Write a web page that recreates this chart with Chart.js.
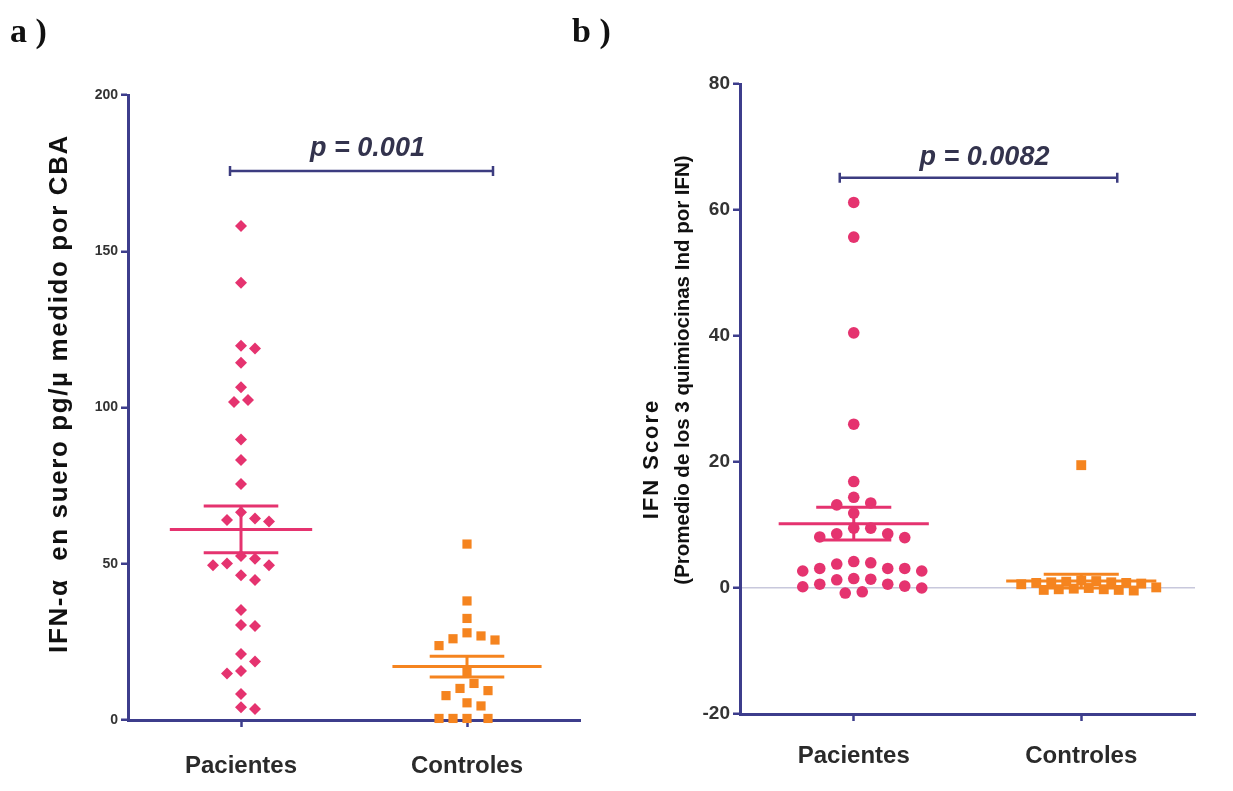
<!DOCTYPE html>
<html><head><meta charset="utf-8">
<script src="https://cdn.jsdelivr.net/npm/chart.js@4.4.1/dist/chart.umd.min.js"></script>
<style>
html,body{margin:0;padding:0;background:#fff;width:1233px;height:791px;overflow:hidden}
#pa{position:absolute;left:0;top:0}
#pb{position:absolute;left:615px;top:0}
.lab{position:absolute;font:bold 34px "Liberation Serif","DejaVu Serif",serif;color:#111;line-height:1}
</style></head><body>
<canvas id="pa" width="615" height="791"></canvas>
<canvas id="pb" width="618" height="791"></canvas>
<div class="lab" style="left:10px;top:14px">a )</div>
<div class="lab" style="left:572px;top:14px">b )</div>
<script>
// ---------- data ----------
const categories = ['Pacientes', 'Controles'];
const categoryPos = [1, 3];

// Panel a: IFN-alpha (pg/µl) by CBA
const pacientesA = [158.1, 139.9, 119.8, 118.9, 114.3, 106.5, 101.8, 102.4, 89.8, 83.2, 75.5,
  64.5, 63.5, 64.0, 66.5, 51.6, 50.1, 49.5, 49.5, 52.5, 44.8, 46.3, 35.2, 30.4, 30.1,
  21.1, 18.7, 15.7, 14.9, 8.3, 3.5, 4.1];
const controlesA = [56.3, 38.1, 32.5, 26.9, 25.6, 26.0, 27.9, 23.8, 15.5, 11.7, 9.4, 7.8, 10.1,
  4.5, 5.5, 0.5, 0.5, 0.5, 0.5];
const meanA = [61.0, 17.1];
const semA = [7.5, 3.3];
const yTicksA = [0, 50, 100, 150, 200];
const pValueA = 'p = 0.001';
const pLevelA = 175.7;

// Panel b: IFN Score
const pacientesB = [61.2, 55.7, 40.5, 26.0, 16.9, 14.4, 13.2, 13.5, 11.9, 9.5, 9.5, 8.6, 8.0, 8.1, 8.6,
  4.0, 3.1, 3.1, 2.7, 2.7, 3.1, 3.8, 4.2, 1.4, 1.5, 0.6, 0.3, 0.0, -0.6, -0.8, 0.2, 0.6, 1.3];
const controlesB = [19.5, 1.2, 0.9, 0.8, 0.9, 0.7, 1.0, 0.8, 0.6, 1.1, 0.0, -0.2, -0.3, -0.1, -0.4, -0.2, -0.3, 0.1];
const meanB = [10.2, 1.1];
const semB = [2.6, 1.1];
const yTicksB = [-20, 0, 20, 40, 60, 80];
const pValueB = 'p = 0.0082';
const pLevelB = 65.1;

// ---------- styles ----------
const NAVY = '#3d3d8c';
const PINK = '#e5336f';
const ORANGE = '#f5841f';
const SANS = '"Liberation Sans", Arial, sans-serif';

Chart.defaults.animation = false;

const extrasPlugin = {
  id: 'extras',
  afterDatasetsDraw(chart, args, opts) {
    const ctx = chart.ctx, xs = chart.scales.x, ys = chart.scales.y, ca = chart.chartArea;
    ctx.save();
    // significance bracket
    const b = opts.bracket;
    const x1 = xs.getPixelForValue(categoryPos[0]) + b.padL;
    const x2 = xs.getPixelForValue(categoryPos[1]) + b.padR;
    const y = ys.getPixelForValue(b.level);
    ctx.strokeStyle = b.color; ctx.lineWidth = 2.5;
    ctx.beginPath();
    ctx.moveTo(x1, y); ctx.lineTo(x2, y);
    ctx.moveTo(x1, y - 5); ctx.lineTo(x1, y + 5);
    ctx.moveTo(x2, y - 5); ctx.lineTo(x2, y + 5);
    ctx.stroke();
    ctx.fillStyle = b.textColor;
    ctx.font = b.font;
    ctx.textAlign = 'center'; ctx.textBaseline = 'alphabetic';
    ctx.fillText(b.label, (x1 + x2) / 2 + b.textDx, y - b.textGap);
    // rotated y titles
    const cy = (ca.top + ca.bottom) / 2;
    for (const t of opts.titles) {
      ctx.save();
      ctx.translate(ca.left - t.offset, cy + t.dy);
      ctx.rotate(-Math.PI / 2);
      ctx.font = t.font;
      if ('letterSpacing' in ctx) ctx.letterSpacing = (t.spacing || 0) + 'px';
      ctx.fillStyle = '#111';
      ctx.textAlign = 'center'; ctx.textBaseline = 'middle';
      ctx.fillText(t.text, 0, 0);
      ctx.restore();
    }
    ctx.restore();
  }
};

function pointSet(values, center, color, style, radius) {
  return {
    data: values.map(v => ({ x: center, y: v })),
    backgroundColor: color, borderColor: color, borderWidth: 0,
    pointStyle: style, pointRadius: radius, pointHoverRadius: radius,
    clip: false, order: 0
  };
}
function lineSet(points, color) {
  return {
    data: points, showLine: true, borderColor: color, borderWidth: 3,
    pointRadius: 0, pointHoverRadius: 0, clip: false, order: 1, borderCapStyle: 'butt'
  };
}
function meanSets(center, mean, sem, color, hw, ew) {
  return [
    lineSet([{ x: center - hw, y: mean }, { x: center + hw, y: mean }], color),
    lineSet([{ x: center - ew, y: mean + sem }, { x: center + ew, y: mean + sem }], color),
    lineSet([{ x: center - ew, y: mean - sem }, { x: center + ew, y: mean - sem }], color),
    lineSet([{ x: center, y: mean - sem }, { x: center, y: mean + sem }], color)
  ];
}

function makeOptions(p) {
  return {
    responsive: false, animation: false, events: [],
    layout: { padding: { top: p.top, right: p.right, left: 0, bottom: 0 } },
    plugins: {
      legend: { display: false }, tooltip: { enabled: false },
      extras: { bracket: p.bracket, titles: p.titles }
    },
    scales: {
      x: {
        type: 'linear', min: 0, max: 4,
        afterBuildTicks: s => { s.ticks = categoryPos.map(v => ({ value: v })); },
        afterFit: s => { s.height = p.xHeight; },
        ticks: {
          callback: v => categories[categoryPos.indexOf(v)] || '',
          font: { family: SANS, size: p.catSize, weight: 'bold' }, color: '#2a2a2a',
          padding: p.catPad, maxRotation: 0, autoSkip: false
        },
        grid: { drawOnChartArea: false, tickLength: 7, tickColor: NAVY, tickWidth: 2.5 },
        border: { display: true, color: NAVY, width: 3 }
      },
      y: {
        min: p.yTicks[0], max: p.yTicks[p.yTicks.length - 1],
        afterBuildTicks: s => { s.ticks = p.yTicks.map(v => ({ value: v })); },
        afterFit: s => { s.width = p.yWidth; },
        ticks: { font: { family: SANS, size: p.tickSize, weight: 'bold' }, color: '#333', padding: 3 },
        grid: {
          drawOnChartArea: p.zeroLine, tickLength: 7, tickColor: NAVY, tickWidth: 2.5,
          color: c => (c.tick && c.tick.value === 0) ? '#c8c8dc' : 'rgba(0,0,0,0)', lineWidth: 1.5
        },
        border: { display: true, color: NAVY, width: 3 }
      }
    }
  };
}

function applySwarm(chart, idx, center, values, step, diam) {
  const xs = chart.scales.x, ys = chart.scales.y;
  const ppu = xs.getPixelForValue(1) - xs.getPixelForValue(0);
  const order = values.map((v, i) => i).sort((a, b) => values[b] - values[a]);
  const placed = [], offs = new Array(values.length).fill(0);
  for (const i of order) {
    const py = ys.getPixelForValue(values[i]);
    for (let k = 0; k < 80; k++) {
      const off = (k % 2 === 1 ? 1 : -1) * Math.ceil(k / 2) * step;
      if (placed.every(p => Math.hypot(p.x - off, p.y - py) >= diam)) {
        placed.push({ x: off, y: py }); offs[i] = off; break;
      }
    }
  }
  chart.data.datasets[idx].data = values.map((v, i) => ({ x: center + offs[i] / ppu, y: v }));
}

// ---------- panel a ----------
const chartA = new Chart(document.getElementById('pa'), {
  type: 'scatter',
  data: {
    datasets: [
      pointSet(pacientesA, categoryPos[0], PINK, 'rectRot', 6),
      pointSet(controlesA, categoryPos[1], ORANGE, 'rect', 6.5),
      ...meanSets(categoryPos[0], meanA[0], semA[0], PINK, 0.63, 0.33),
      ...meanSets(categoryPos[1], meanA[1], semA[1], ORANGE, 0.66, 0.33)
    ]
  },
  options: makeOptions({
    top: 95, right: 35, xHeight: 71, yWidth: 128, catSize: 24, catPad: 25, tickSize: 14,
    yTicks: yTicksA, zeroLine: false,
    bracket: { level: pLevelA, label: pValueA, padL: -11, padR: 26, textDx: 6, textGap: 15,
      color: '#3c3c80', textColor: '#33334d', font: 'italic bold 27px ' + SANS },
    titles: [{ text: 'IFN-α  en suero pg/µ medido por CBA', font: 'bold 26px ' + SANS,
      offset: 68, dy: -14, spacing: 1.6 }]
  }),
  plugins: [extrasPlugin]
});
applySwarm(chartA, 0, categoryPos[0], pacientesA, 7, 13);
applySwarm(chartA, 1, categoryPos[1], controlesA, 7, 13);
chartA.update('none');

// ---------- panel b ----------
const chartB = new Chart(document.getElementById('pb'), {
  type: 'scatter',
  data: {
    datasets: [
      pointSet(pacientesB, categoryPos[0], PINK, 'circle', 5.8),
      pointSet(controlesB, categoryPos[1], ORANGE, 'rect', 7),
      ...meanSets(categoryPos[0], meanB[0], semB[0], PINK, 0.66, 0.33),
      ...meanSets(categoryPos[1], meanB[1], semB[1], ORANGE, 0.66, 0.33)
    ]
  },
  options: makeOptions({
    top: 84, right: 38, xHeight: 77, yWidth: 125, catSize: 24, catPad: 21, tickSize: 19,
    yTicks: yTicksB, zeroLine: true,
    bracket: { level: pLevelB, label: pValueB, padL: -14, padR: 36, textDx: 6, textGap: 13,
      color: '#3c3c80', textColor: '#33334d', font: 'italic bold 27px ' + SANS },
    titles: [
      { text: 'IFN Score', font: 'bold 22px ' + SANS, offset: 88, dy: 60, spacing: 2 },
      { text: '(Promedio de los 3 quimiocinas Ind por IFN)', font: 'bold 20.5px ' + SANS, offset: 57, dy: -29, spacing: 0 }
    ]
  }),
  plugins: [extrasPlugin]
});
applySwarm(chartB, 0, categoryPos[0], pacientesB, 8.5, 15);
applySwarm(chartB, 1, categoryPos[1], controlesB, 7.5, 10);
chartB.update('none');
</script>
</body></html>
